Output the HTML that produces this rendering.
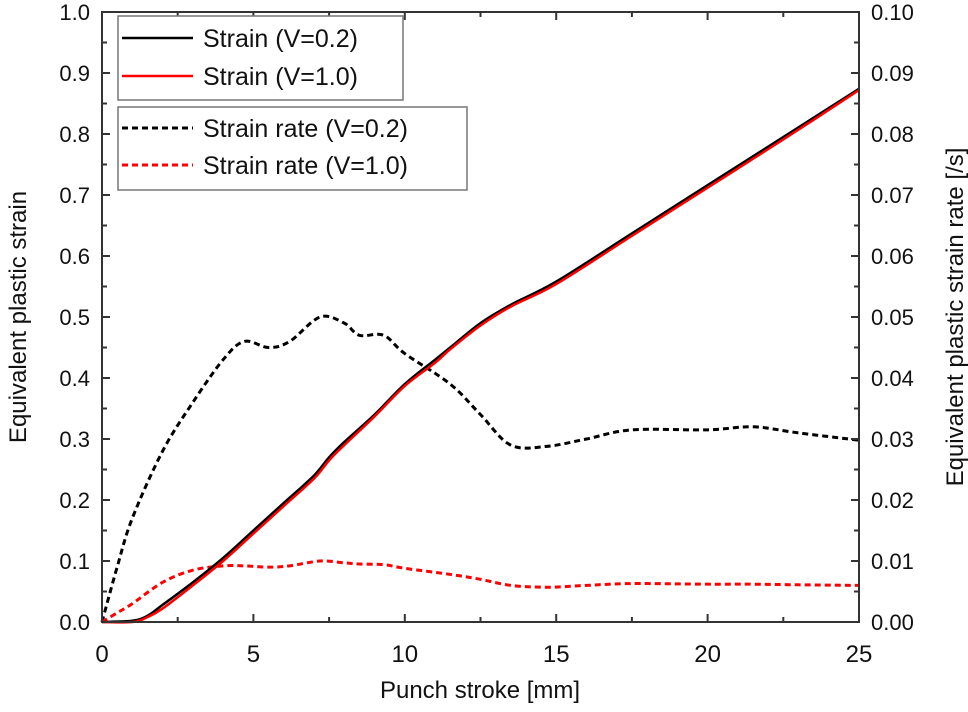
<!DOCTYPE html>
<html><head><meta charset="utf-8"><style>
body{margin:0;background:#fff}
svg text{font-family:"Liberation Sans",Arial,sans-serif;fill:#111}
</style></head><body>
<svg id="chart" width="968" height="707" viewBox="0 0 968 707" xmlns="http://www.w3.org/2000/svg">
<g id="series"></g>
<g id="axes"></g>
<rect x="118" y="16" width="285" height="84" fill="#fff" stroke="#777" stroke-width="1.5"/>
<line x1="122" y1="38" x2="193" y2="38" stroke="#000" stroke-width="2.5"/>
<text x="203" y="47" font-size="25">Strain (V=0.2)</text>
<line x1="122" y1="76" x2="193" y2="76" stroke="#f00" stroke-width="2.5"/>
<text x="203" y="85" font-size="25">Strain (V=1.0)</text>
<rect x="118" y="107" width="349" height="83" fill="#fff" stroke="#777" stroke-width="1.5"/>
<line x1="122" y1="128" x2="193" y2="128" stroke="#000" stroke-width="3" stroke-dasharray="6,4"/>
<text x="203" y="137" font-size="25">Strain rate (V=0.2)</text>
<line x1="122" y1="165" x2="193" y2="165" stroke="#f00" stroke-width="3" stroke-dasharray="6,4"/>
<text x="203" y="174" font-size="25">Strain rate (V=1.0)</text>
<text x="480" y="698" font-size="24" text-anchor="middle">Punch stroke [mm]</text>
<text transform="translate(26,317) rotate(-90)" font-size="24" text-anchor="middle">Equivalent plastic strain</text>
<text transform="translate(963,317) rotate(-90)" font-size="24" text-anchor="middle">Equivalent plastic strain rate [/s]</text>
</svg>
<script>
const strainX=[0,1,1.5,2,3,4,5,6,7,7.5,8,9,10,11,11.5,12.5,13.5,15,17.5,20,22.5,25];
const strain02=[0,0.002,0.01,0.028,0.065,0.105,0.15,0.195,0.24,0.27,0.295,0.34,0.39,0.43,0.45,0.49,0.52,0.558,0.637,0.716,0.795,0.874];
const strain10=[0,0,0.008,0.022,0.06,0.1,0.145,0.19,0.235,0.265,0.29,0.337,0.387,0.425,0.447,0.486,0.517,0.554,0.633,0.712,0.791,0.872];
const rateX=[0,0.5,1,2,3,4,4.7,5.5,6.2,7.2,8,8.5,9.3,10,11.5,12.5,13.5,14.7,16,17.5,20,21.5,23,25];
const rate02=[0,0.009,0.017,0.028,0.036,0.043,0.046,0.045,0.046,0.050,0.049,0.047,0.047,0.044,0.039,0.034,0.029,0.0288,0.030,0.0315,0.0315,0.032,0.031,0.0298];
const rate10=[0,0.0015,0.003,0.0065,0.0085,0.0092,0.0092,0.009,0.0092,0.010,0.0097,0.0095,0.0094,0.0088,0.0078,0.007,0.006,0.0057,0.006,0.0063,0.0062,0.0062,0.0061,0.006];
const xTicks=[0,5,10,15,20,25];
const yTicksL=["0.0","0.1","0.2","0.3","0.4","0.5","0.6","0.7","0.8","0.9","1.0"];
const yTicksR=["0.00","0.01","0.02","0.03","0.04","0.05","0.06","0.07","0.08","0.09","0.10"];
const X0=102,X1=859,Y0=622,Y1=12;
const sx=v=>X0+(X1-X0)*v/25;
const syL=v=>Y0-(Y0-Y1)*v;
const syR=v=>Y0-(Y0-Y1)*v/0.1;
const NS="http://www.w3.org/2000/svg";
function mk(tag,attrs,parent){const e=document.createElementNS(NS,tag);for(const k in attrs)e.setAttribute(k,attrs[k]);parent.appendChild(e);return e;}
function smooth(xs,ys,fy){
  const p=xs.map((x,i)=>[sx(x),fy(ys[i])]);
  let d="M"+p[0][0]+","+p[0][1];
  for(let i=0;i<p.length-1;i++){
    const a=p[i-1]||p[i],b=p[i],c=p[i+1],e=p[i+2]||c;
    const c1=[b[0]+(c[0]-a[0])/6,b[1]+(c[1]-a[1])/6],c2=[c[0]-(e[0]-b[0])/6,c[1]-(e[1]-b[1])/6];
    d+=` C${c1[0]},${c1[1]} ${c2[0]},${c2[1]} ${c[0]},${c[1]}`;
  }
  return d;
}
const S=document.getElementById('series');
let p;
p=mk('path',{d:smooth(rateX,rate02,syR),fill:'none',stroke:'#000','stroke-width':3,'stroke-dasharray':'6,4'},S);


p=mk('path',{d:smooth(rateX,rate10,syR),fill:'none',stroke:'#f00','stroke-width':3,'stroke-dasharray':'6,4'},S);


p=mk('path',{d:smooth(strainX,strain02,syL),fill:'none',stroke:'#000','stroke-width':2.5},S);


p=mk('path',{d:smooth(strainX,strain10,syL),fill:'none',stroke:'#f00','stroke-width':2.5},S);


const A=document.getElementById('axes');
let f=mk('rect',{x:X0,y:Y1,width:X1-X0,height:Y0-Y1,fill:'none',stroke:'#333','stroke-width':2},A);


for(let i=0;i<=50;i++){
  const v=i*0.5,x=sx(v),len=(i%10==0)?8:5;
  if(i%5!=0)continue;
  mk('line',{x1:x,y1:Y0,x2:x,y2:Y0-len,stroke:'#333','stroke-width':2},A);
  mk('line',{x1:x,y1:Y1,x2:x,y2:Y1+len,stroke:'#333','stroke-width':2},A);
}
xTicks.forEach(v=>{
  const t=mk('text',{x:sx(v),y:Y0+40,'font-size':24,'text-anchor':'middle'},A);t.textContent=v;
  
  
});
for(let i=0;i<=20;i++){
  const y=Y0-(Y0-Y1)*i/20,len=(i%2==0)?8:5;
  mk('line',{x1:X0,y1:y,x2:X0+len,y2:y,stroke:'#333','stroke-width':2},A);
  mk('line',{x1:X1,y1:y,x2:X1-len,y2:y,stroke:'#333','stroke-width':2},A);
}
yTicksL.forEach((s,i)=>{
  const t=mk('text',{x:X0-12,y:syL(i/10)+8,'font-size':22,'text-anchor':'end'},A);t.textContent=s;
  
  
});
yTicksR.forEach((s,i)=>{
  const t=mk('text',{x:X1+12,y:syR(i/100)+8,'font-size':22,'text-anchor':'start'},A);t.textContent=s;
  
  
});
</script>
</body></html>
